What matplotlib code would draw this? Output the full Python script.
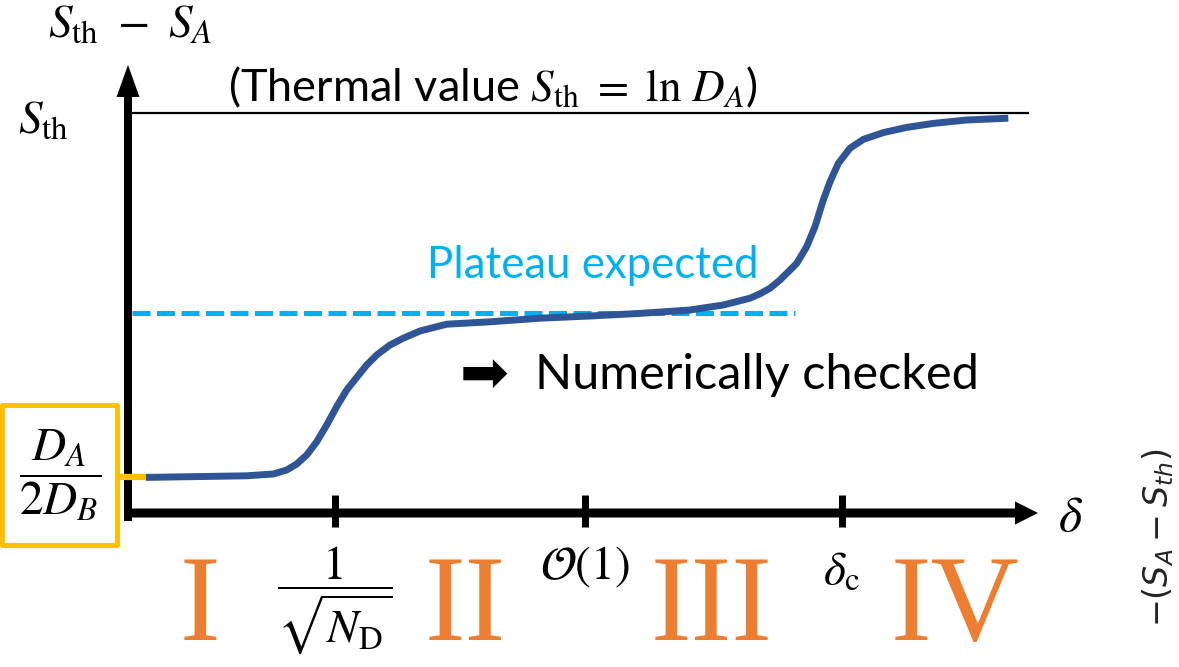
import matplotlib
matplotlib.use("Agg")
import matplotlib.pyplot as plt
from matplotlib.patches import FancyArrow, Rectangle

plt.rcParams['mathtext.fontset'] = 'stix'
plt.rcParams['font.family'] = ['Lato', 'DejaVu Sans']

# schematic entanglement curve (x: delta scale, y: S in units of S_th)
delta = [0.18, 0.687, 1.187, 1.453, 1.587, 1.687, 1.787, 1.887, 1.987, 2.087,
         2.187, 2.287, 2.387, 2.487, 2.62, 2.753, 2.92, 3.187, 3.62, 4.12,
         4.62, 5.12, 5.62, 5.953, 6.22, 6.32, 6.42, 6.52, 6.687, 6.787, 6.87,
         6.953, 7.02, 7.103, 7.22, 7.353, 7.553, 7.787, 8.053, 8.387, 8.803]
entropy = [0.089, 0.091, 0.093, 0.0975, 0.1075, 0.1225, 0.145, 0.178, 0.22,
           0.266, 0.3075, 0.339, 0.37, 0.395, 0.42, 0.437, 0.455, 0.472,
           0.478, 0.487, 0.4925, 0.499, 0.5075, 0.52, 0.537, 0.548, 0.562,
           0.5825, 0.624, 0.666, 0.716, 0.7825, 0.828, 0.874, 0.912, 0.934,
           0.951, 0.964, 0.974, 0.9825, 0.987]

plateau_level = 0.50
plateau_end = 6.67
s_thermal = 1.0
thermal_end = 9.0

tick_pos = [2.07, 4.57, 7.14]
tick_labels = [r'$\dfrac{1}{\sqrt{N_{\rm D}}}$', r'$\mathcal{O}(1)$', r'$\delta_{\rm c}$']
tick_label_y = [-0.2175, -0.135, -0.1475]

regions = ['I', 'II', 'III', 'IV']
region_x = [0.72, 3.37, 5.84, 8.27]

curve_color = '#2F5597'
cyan = '#00B0F0'
orange = '#ED7D31'
gold = '#FFC000'

fig = plt.figure(figsize=(11.79, 6.67), dpi=100)
ax = fig.add_axes([0, 0, 1, 1])
ax.set_xlim(-1.28, 10.51)
ax.set_ylim(-0.385, 1.2825)
ax.axis('off')

# axes with arrow heads
ax.add_patch(FancyArrow(0, -0.02, 0, 1.14, width=0.08, head_width=0.23,
                        head_length=0.08, length_includes_head=True,
                        color='black', lw=0))
ax.add_patch(FancyArrow(-0.04, 0, 9.14, 0, width=0.0225, head_width=0.058,
                        head_length=0.23, length_includes_head=True,
                        color='black', lw=0))
for t in tick_pos:
    ax.plot([t, t], [-0.035, 0.045], color='black', lw=5, solid_capstyle='butt')

# thermal value line
ax.plot([0.04, thermal_end], [s_thermal, s_thermal], color='black', lw=1.6)

# expected plateau
ax.plot([0.04, plateau_end], [plateau_level, plateau_level], color=cyan,
        lw=3.6, dashes=(3.6, 1.3), dash_capstyle='butt')

# yellow marker for the small-delta value
ax.add_patch(Rectangle((-1.26, -0.08), 1.15, 0.35, fill=False, ec=gold,
                       lw=3.6, joinstyle='round'))
ax.plot([-0.11, delta[0]], [entropy[0], entropy[0]], color=gold, lw=4.5,
        solid_capstyle='butt')

ax.plot(delta, entropy, color=curve_color, lw=5, solid_joinstyle='round',
        solid_capstyle='butt')

# labels
ax.text(0.02, 1.22, r'$S_{\rm th}\ -\ S_A$', fontsize=34, ha='center', va='center')
ax.text(-0.85, 0.98, r'$S_{\rm th}$', fontsize=34, ha='center', va='center')
ax.text(1.0, 1.065, r'(Thermal value $S_{\rm th}\ =\ \ln\,D_A$)', fontsize=32.5,
        ha='left', va='center')
ax.text(4.65, 0.62, 'Plateau expected', fontsize=31.5, color=cyan,
        ha='center', va='center')
ax.text(3.32, 0.345, '\u27A1', fontsize=42, family='DejaVu Sans',
        ha='left', va='center')
ax.text(4.07, 0.345, 'Numerically checked', fontsize=35, ha='left', va='center')
ax.text(9.42, -0.01, r'$\delta$', fontsize=36, ha='center', va='center')
ax.text(-0.68, 0.095, r'$\dfrac{D_A}{2D_B}$', fontsize=34, ha='center', va='center')

for t, lab, ly in zip(tick_pos, tick_labels, tick_label_y):
    ax.text(t, ly, lab, fontsize=34, ha='center', va='center')

for rx, r in zip(region_x, regions):
    ax.text(rx, -0.3175, r, fontsize=88, color=orange, family='Liberation Serif',
            ha='center', va='baseline')

ax.text(10.30, -0.0625, r'$-(S_A - S_{th})$', fontsize=24, rotation=90,
        ha='center', va='center', math_fontfamily='dejavusans', color='#222222')

fig.savefig('out.png', dpi=100)
